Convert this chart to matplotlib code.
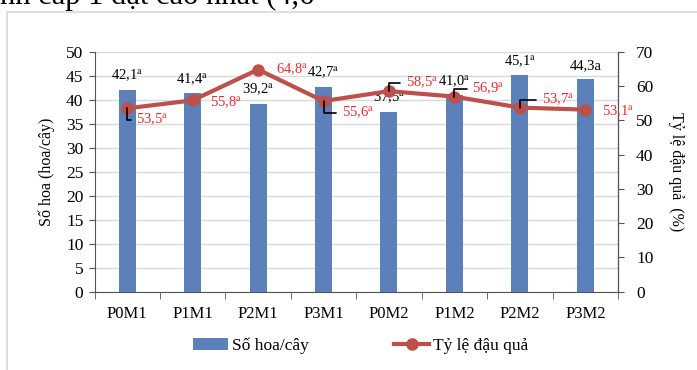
import numpy as np
import matplotlib
matplotlib.use("Agg")
import matplotlib.pyplot as plt
from matplotlib.patches import Rectangle
from matplotlib.lines import Line2D
from matplotlib.patches import Patch

plt.rcParams['font.family'] = ['Liberation Serif', 'DejaVu Serif']
plt.rcParams['mathtext.fontset'] = 'stix'

# data
categories = ['P0M1', 'P1M1', 'P2M1', 'P3M1', 'P0M2', 'P1M2', 'P2M2', 'P3M2']
so_hoa = [42.1, 41.4, 39.2, 42.7, 37.5, 41.0, 45.1, 44.3]
ty_le = [53.5, 55.8, 64.8, 55.6, 58.5, 56.9, 53.7, 53.1]
so_hoa_labels = ['42,1$^{\\mathrm{a}}$', '41,4$^{\\mathrm{a}}$', '39,2$^{\\mathrm{a}}$', '42,7$^{\\mathrm{a}}$',
                 '37,5$^{\\mathrm{a}}$', '41,0$^{\\mathrm{a}}$', '45,1$^{\\mathrm{a}}$', '44,3a']
ty_le_labels = ['53,5$^{\\mathrm{a}}$', '55,8$^{\\mathrm{a}}$', '64,8$^{\\mathrm{a}}$', '55,6$^{\\mathrm{a}}$',
                '58,5$^{\\mathrm{a}}$', '56,9$^{\\mathrm{a}}$', '53,7$^{\\mathrm{a}}$', '53,1$^{\\mathrm{a}}$']
# label offsets in pixels (dx, dy up) and whether a leader line is drawn
lab_off = [(9, -12), (17, -2), (18, 0), (18, -12), (17, 8), (18, 8), (22, 7.5), (17, -2)]
leader = [True, False, False, True, True, True, True, False]

bar_color = '#5B80BA'
line_color = '#BE504C'
red_txt = '#EE2B2B'

fig = plt.figure(figsize=(6.97, 3.70), dpi=100)
px = 0.72  # pixel -> points

# light frame of the embedded chart
fig.patches.append(Rectangle((7/697, -0.1), 1.2, 1 - 12/370 + 0.1, transform=fig.transFigure,
                             fill=False, edgecolor='#D9D9D9', linewidth=1.2))
# cut caption line from the page above
fig.text(0, 1 - 4/370, 'nh cấp 1 đạt cao nhất (4,6', fontsize=22, va='baseline', ha='left')

ax = fig.add_axes([94.5/697, 1 - 291.7/370, 523.5/697, 240/370])
ax2 = ax.twinx()

x = np.arange(len(categories))
ax.bar(x, so_hoa, width=0.26, color=bar_color, zorder=2)
ax.set_ylim(0, 50)
ax.set_yticks(np.arange(0, 51, 5))
ax.set_xlim(-0.5, len(categories) - 0.5)
ax.set_xticks(x)
ax.set_xticklabels(categories, fontsize=12)
ax.set_xticks(np.arange(-0.5, len(categories)), minor=True)
ax.tick_params(axis='x', which='major', length=0, pad=10)
ax.tick_params(axis='x', which='minor', length=5, color='#555555')
ax.tick_params(axis='y', labelsize=12.5, length=4, pad=4, color='#555555')
ax.yaxis.grid(True, color='#D9D9D9', linewidth=1)
ax.set_axisbelow(True)
for s in ['top']:
    ax.spines[s].set_visible(False)
for s in ['left', 'bottom']:
    ax.spines[s].set_color('#555555')
ax.set_ylabel('Số hoa (hoa/cây)', fontsize=11.5, labelpad=8)

for xi, v, lab in zip(x, so_hoa, so_hoa_labels):
    ax.annotate(lab, (xi, v), xytext=(0, 13.5 * px), textcoords='offset points',
                ha='center', va='center', fontsize=10.5, zorder=5)

ax2.plot(x, ty_le, color=line_color, linewidth=3, marker='o', markersize=8, zorder=3)
ax2.set_ylim(0, 70)
ax2.set_yticks(np.arange(0, 71, 10))
ax2.tick_params(axis='y', labelsize=12.5, length=4, pad=9, color='#555555')
ax2.spines['top'].set_visible(False)
ax2.spines['left'].set_visible(False)
ax2.spines['bottom'].set_visible(False)
ax2.spines['right'].set_color('#555555')
ax2.set_ylabel('Tỷ lệ đậu quả  (%)', fontsize=11.5, rotation=-90, labelpad=22)

for xi, v, lab, (dx, dy), ld in zip(x, ty_le, ty_le_labels, lab_off, leader):
    kw = {}
    if ld:
        kw['arrowprops'] = dict(arrowstyle='-', color='black', lw=1.2, shrinkA=2, shrinkB=0,
                                relpos=(0, 0.5), connectionstyle='angle,angleA=0,angleB=90,rad=0')
    ax2.annotate(lab, (xi, v), xytext=(dx * px, dy * px), textcoords='offset points',
                 ha='left', va='center', fontsize=10.5, color=red_txt, zorder=5, **kw)

handles = [Patch(facecolor=bar_color, edgecolor='none'),
           Line2D([0], [0], color=line_color, linewidth=3, marker='o', markersize=8)]
fig.legend(handles, ['Số hoa/cây', 'Tỷ lệ đậu quả'], loc='center', bbox_to_anchor=(361/697, 1 - 346/370),
           ncol=2, frameon=False, fontsize=12.5, handlelength=2.0, handletextpad=0.25,
           columnspacing=4.9, numpoints=1)

fig.savefig('out.png', dpi=100)
